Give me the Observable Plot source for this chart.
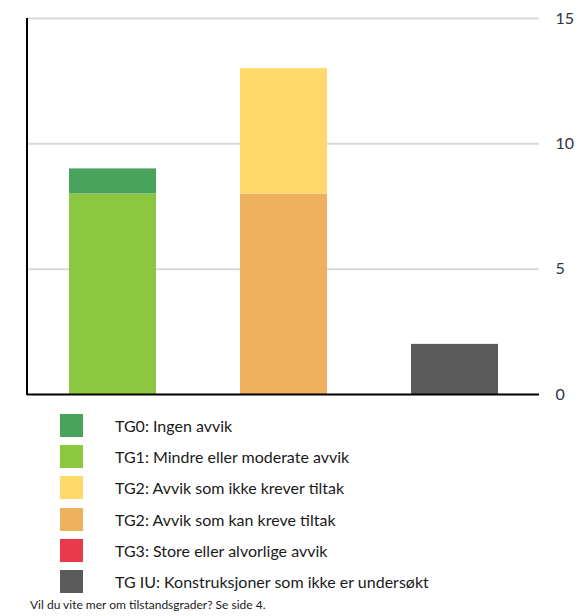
<!DOCTYPE html>
<html>
<head>
<meta charset="utf-8">
<script src="https://cdn.jsdelivr.net/npm/d3@7"></script>
<script src="https://cdn.jsdelivr.net/npm/@observablehq/plot@0.6"></script>
<style>
  body { margin: 0; background: #fff; font-family: Lato, "Open Sans", sans-serif; }
  #chart svg { display: block; }
  .legend { margin: 0 0 0 60px; }
  .row { display: flex; align-items: center; height: 31.2px; font-size: 16px; color: #1a1a1a; }
  .sw { width: 23px; height: 23px; margin-right: 32px; }
  .note { font-size: 12px; color: #1a1a1a; margin: 0 0 0 30px; position: absolute; top: 597px; }
</style>
</head>
<body>
<div id="chart"></div>
<div class="legend" id="legend"></div>
<div class="note">Vil du vite mer om tilstandsgrader? Se side 4.</div>
<script>
const groups = ["Gruppe 1", "Gruppe 2", "Gruppe 3"];
const grades = ["TG0", "TG1", "TG2a", "TG2b", "TG3", "TGIU"];
const gradeLabels = [
  "TG0: Ingen avvik",
  "TG1: Mindre eller moderate avvik",
  "TG2: Avvik som ikke krever tiltak",
  "TG2: Avvik som kan kreve tiltak",
  "TG3: Store eller alvorlige avvik",
  "TG IU: Konstruksjoner som ikke er undersøkt"
];
const gradeColors = ["#4aa35c", "#8dc63f", "#ffd96a", "#eeb15b", "#e8394d", "#5b5b5b"];
// stacked bottom to top
const segGroup = ["Gruppe 1", "Gruppe 1", "Gruppe 2", "Gruppe 2", "Gruppe 3"];
const segGrade = ["TG1", "TG0", "TG2b", "TG2a", "TGIU"];
const segValue = [8, 1, 8, 5, 2];
const yTicks = [0, 5, 10, 15];

const data = segGroup.map((g, i) => ({group: g, grade: segGrade[i], value: segValue[i]}));

const chart = Plot.plot({
  width: 579,
  height: 410,
  marginTop: 18,
  marginBottom: 16,
  marginLeft: 27,
  marginRight: 40,
  style: {fontFamily: "Lato, 'Open Sans', sans-serif", fontSize: "16px"},
  x: {domain: groups, paddingInner: 0.493, paddingOuter: 0.24, axis: null},
  y: {domain: [0, 15], ticks: yTicks, axis: null},
  color: {domain: grades, range: gradeColors},
  marks: [
    Plot.ruleY([5, 10, 15], {stroke: "#d9d9d9", strokeWidth: 2}),
    Plot.barY(data, {x: "group", y: "value", fill: "grade", order: null, inset: 0}),
    Plot.ruleY([0], {stroke: "#000", strokeWidth: 2}),
    Plot.axisY({anchor: "right", ticks: yTicks, tickSize: 0, tickPadding: 16, textAnchor: "start", fill: "#2b3440", fontSize: 16, label: null}),
  ]
});
document.getElementById("chart").append(chart);

// left axis line
const svg = d3.select(chart);
svg.append("line").attr("x1", 27).attr("x2", 27).attr("y1", 18).attr("y2", 395)
  .attr("stroke", "#000").attr("stroke-width", 2);

const leg = document.getElementById("legend");
gradeLabels.forEach((t, i) => {
  const r = document.createElement("div");
  r.className = "row";
  r.innerHTML = `<div class="sw" style="background:${gradeColors[i]}"></div><span>${t}</span>`;
  leg.append(r);
});
</script>
</body>
</html>
